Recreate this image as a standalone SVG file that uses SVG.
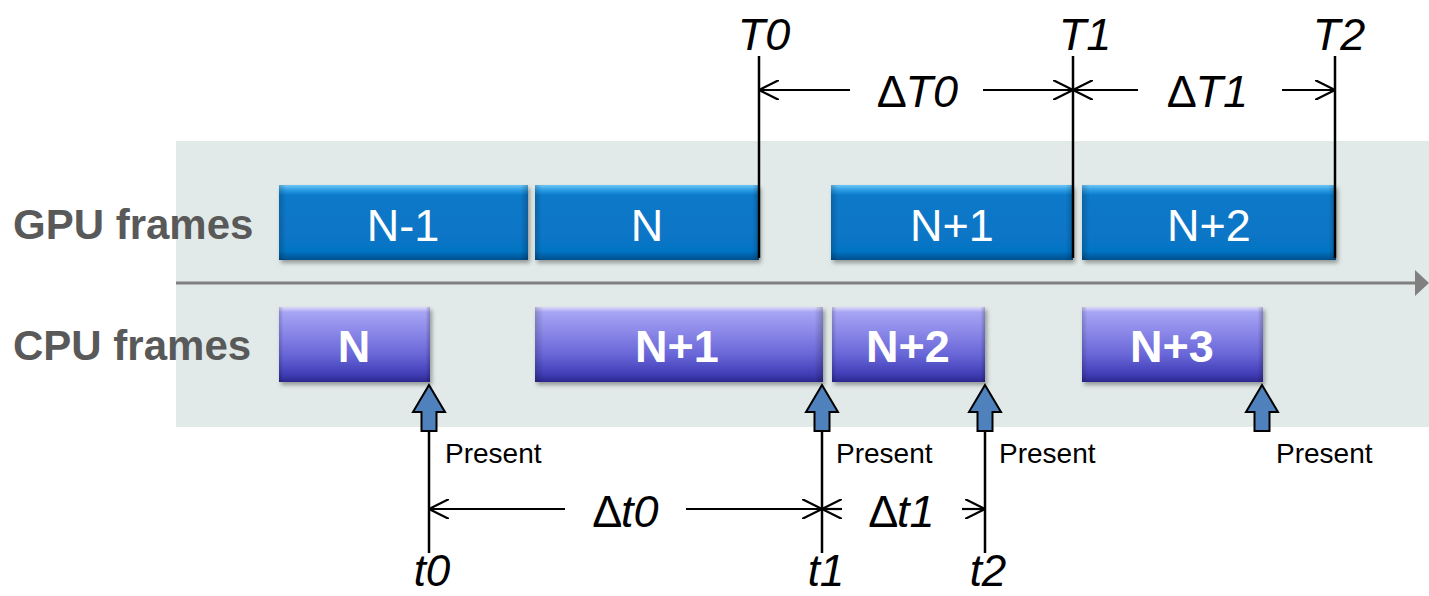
<svg xmlns="http://www.w3.org/2000/svg" width="1429" height="596" viewBox="0 0 1429 596">
  <defs>
    <linearGradient id="gpuFill" x1="0" y1="0" x2="0" y2="1">
      <stop offset="0" stop-color="#6cc6f7"/>
      <stop offset="0.07" stop-color="#2c9be2"/>
      <stop offset="0.14" stop-color="#0a79c9"/>
      <stop offset="0.88" stop-color="#0674c4"/>
      <stop offset="1" stop-color="#044f8c"/>
    </linearGradient>
    <linearGradient id="cpuFill" x1="0" y1="0" x2="0" y2="1">
      <stop offset="0" stop-color="#dcdafc"/>
      <stop offset="0.07" stop-color="#a6a4f3"/>
      <stop offset="0.35" stop-color="#8986e8"/>
      <stop offset="0.65" stop-color="#6764d6"/>
      <stop offset="0.88" stop-color="#4440b9"/>
      <stop offset="1" stop-color="#2c2890"/>
    </linearGradient>
    <linearGradient id="sideShade" x1="0" y1="0" x2="1" y2="0">
      <stop offset="0" stop-color="#000" stop-opacity="0.18"/>
      <stop offset="0.03" stop-color="#000" stop-opacity="0"/>
      <stop offset="0.97" stop-color="#000" stop-opacity="0"/>
      <stop offset="1" stop-color="#000" stop-opacity="0.22"/>
    </linearGradient>
    <filter id="shadow" x="-5%" y="-10%" width="112%" height="130%">
      <feDropShadow dx="2" dy="3" stdDeviation="2" flood-color="#000" flood-opacity="0.35"/>
    </filter>
    <marker id="open" viewBox="0 0 20 20" refX="20" refY="10" markerWidth="20" markerHeight="20" markerUnits="userSpaceOnUse" orient="auto-start-reverse">
      <path d="M0,0 L20,10 L0,20" fill="none" stroke="#000" stroke-width="2.2"/>
    </marker>
    <marker id="axisHead" viewBox="0 0 14 26" refX="2" refY="13" markerWidth="14" markerHeight="26" markerUnits="userSpaceOnUse" orient="auto">
      <path d="M0,0 L14,13 L0,26 Z" fill="#808080"/>
    </marker>
    <path id="present" d="M0,0 L16,27 L7.5,27 L7.5,46 L-7.5,46 L-7.5,27 L-16,27 Z"/>
  </defs>
  <style>
    .row { font-family: "Liberation Sans", Arial, sans-serif; font-weight: bold; font-size: 42px; fill: #595959; }
    .gpu rect.body { fill: url(#gpuFill); filter: url(#shadow); }
    .cpu rect.body { fill: url(#cpuFill); filter: url(#shadow); }
    rect.edge { fill: url(#sideShade); }
    .gpu text { font-family: "Liberation Sans", Arial, sans-serif; font-size: 45px; fill: #fff; text-anchor: middle; }
    .cpu text { font-family: "Liberation Sans", Arial, sans-serif; font-size: 45px; font-weight: bold; fill: #fff; text-anchor: middle; }
    .mark { font-family: "Liberation Sans", Arial, sans-serif; font-size: 45px; font-style: italic; fill: #000; text-anchor: middle; }
    .low { font-size: 44px; }
    .delta { font-style: normal; }
    .note { font-family: "Liberation Sans", Arial, sans-serif; font-size: 28px; fill: #000; }
    .tick { stroke: #000; stroke-width: 2.5; fill: none; }
    .dim { stroke: #000; stroke-width: 2.2; fill: none; }
    .arrowUp { fill: #4f81bd; stroke: #000; stroke-width: 2; stroke-linejoin: miter; }
  </style>

  <!-- timeline panel and axis -->
  <rect x="176" y="141" width="1253" height="286" fill="#e1eae8"/>
  <line x1="176" y1="283" x2="1417" y2="283" stroke="#808080" stroke-width="3" marker-end="url(#axisHead)"/>

  <!-- row titles -->
  <text class="row" x="13" y="239">GPU frames</text>
  <text class="row" x="13" y="360">CPU frames</text>

  <!-- GPU frames -->
  <g id="gpu-n-1" class="gpu">
    <rect class="body" x="279" y="185" width="249" height="75"/>
    <rect class="edge" x="279" y="185" width="249" height="75"/>
    <text x="403" y="241">N-1</text>
  </g>
  <g id="gpu-n" class="gpu">
    <rect class="body" x="535" y="185" width="224" height="75"/>
    <rect class="edge" x="535" y="185" width="224" height="75"/>
    <text x="647" y="241">N</text>
  </g>
  <g id="gpu-n+1" class="gpu">
    <rect class="body" x="831" y="185" width="242" height="75"/>
    <rect class="edge" x="831" y="185" width="242" height="75"/>
    <text x="952" y="241">N+1</text>
  </g>
  <g id="gpu-n+2" class="gpu">
    <rect class="body" x="1082" y="185" width="254" height="75"/>
    <rect class="edge" x="1082" y="185" width="254" height="75"/>
    <text x="1209" y="241">N+2</text>
  </g>

  <!-- CPU frames -->
  <g id="cpu-n" class="cpu">
    <rect class="body" x="279" y="307" width="151" height="75"/>
    <rect class="edge" x="279" y="307" width="151" height="75"/>
    <text x="354" y="362">N</text>
  </g>
  <g id="cpu-n+1" class="cpu">
    <rect class="body" x="535" y="307" width="288" height="75"/>
    <rect class="edge" x="535" y="307" width="288" height="75"/>
    <text x="677" y="362">N+1</text>
  </g>
  <g id="cpu-n+2" class="cpu">
    <rect class="body" x="832" y="307" width="153" height="75"/>
    <rect class="edge" x="832" y="307" width="153" height="75"/>
    <text x="908" y="362">N+2</text>
  </g>
  <g id="cpu-n+3" class="cpu">
    <rect class="body" x="1082" y="307" width="181" height="75"/>
    <rect class="edge" x="1082" y="307" width="181" height="75"/>
    <text x="1172" y="362">N+3</text>
  </g>

  <!-- Present calls -->
  <g id="present-1">
    <use href="#present" class="arrowUp" x="429" y="385"/>
    <text class="note" x="445" y="463">Present</text>
  </g>
  <g id="present-2">
    <use href="#present" class="arrowUp" x="822" y="385"/>
    <text class="note" x="836" y="463">Present</text>
  </g>
  <g id="present-3">
    <use href="#present" class="arrowUp" x="985" y="385"/>
    <text class="note" x="999" y="463">Present</text>
  </g>
  <g id="present-4">
    <use href="#present" class="arrowUp" x="1262" y="385"/>
    <text class="note" x="1276" y="463">Present</text>
  </g>

  <!-- GPU completion times -->
  <g id="mark-T0">
    <text class="mark" x="764" y="50">T0</text>
  </g>
  <g id="mark-T1">
    <text class="mark" x="1085" y="50">T1</text>
  </g>
  <g id="mark-T2">
    <text class="mark" x="1339" y="50">T2</text>
  </g>

  <!-- CPU present times -->
  <g id="mark-t0">
    <text class="mark low" x="432" y="586">t0</text>
  </g>
  <g id="mark-t1">
    <text class="mark low" x="826" y="586">t1</text>
  </g>
  <g id="mark-t2">
    <text class="mark low" x="988" y="586">t2</text>
  </g>

  <!-- interval labels -->
  <g id="label-dT0">
    <text class="mark" x="918" y="107"><tspan class="delta">∆</tspan>T0</text>
  </g>
  <g id="label-dT1">
    <text class="mark" x="1208" y="107"><tspan class="delta">∆</tspan>T1</text>
  </g>
  <g id="label-dt0">
    <text class="mark" x="626" y="527"><tspan class="delta">∆</tspan>t0</text>
  </g>
  <g id="label-dt1">
    <text class="mark" x="902" y="527"><tspan class="delta">∆</tspan>t1</text>
  </g>

  <!-- connectors: ticks and dimension arrows -->
  <g id="connectors">
    <line class="tick" x1="759" y1="56" x2="759" y2="258"/>
    <line class="tick" x1="1073" y1="56" x2="1073" y2="258"/>
    <line class="tick" x1="1335" y1="56" x2="1335" y2="258"/>
    <line class="tick" x1="429" y1="431" x2="429" y2="553"/>
    <line class="tick" x1="822" y1="431" x2="822" y2="553"/>
    <line class="tick" x1="985" y1="431" x2="985" y2="553"/>

    <line class="dim" x1="850" y1="90" x2="759" y2="90" marker-end="url(#open)"/>
    <line class="dim" x1="983" y1="90" x2="1073" y2="90" marker-end="url(#open)"/>
    <line class="dim" x1="1138" y1="90" x2="1073" y2="90" marker-end="url(#open)"/>
    <line class="dim" x1="1282" y1="90" x2="1335" y2="90" marker-end="url(#open)"/>

    <line class="dim" x1="565" y1="509" x2="429" y2="509" marker-end="url(#open)"/>
    <line class="dim" x1="686" y1="509" x2="822" y2="509" marker-end="url(#open)"/>
    <line class="dim" x1="842" y1="509" x2="822" y2="509" marker-end="url(#open)"/>
    <line class="dim" x1="962" y1="509" x2="985" y2="509" marker-end="url(#open)"/>
  </g>
</svg>
